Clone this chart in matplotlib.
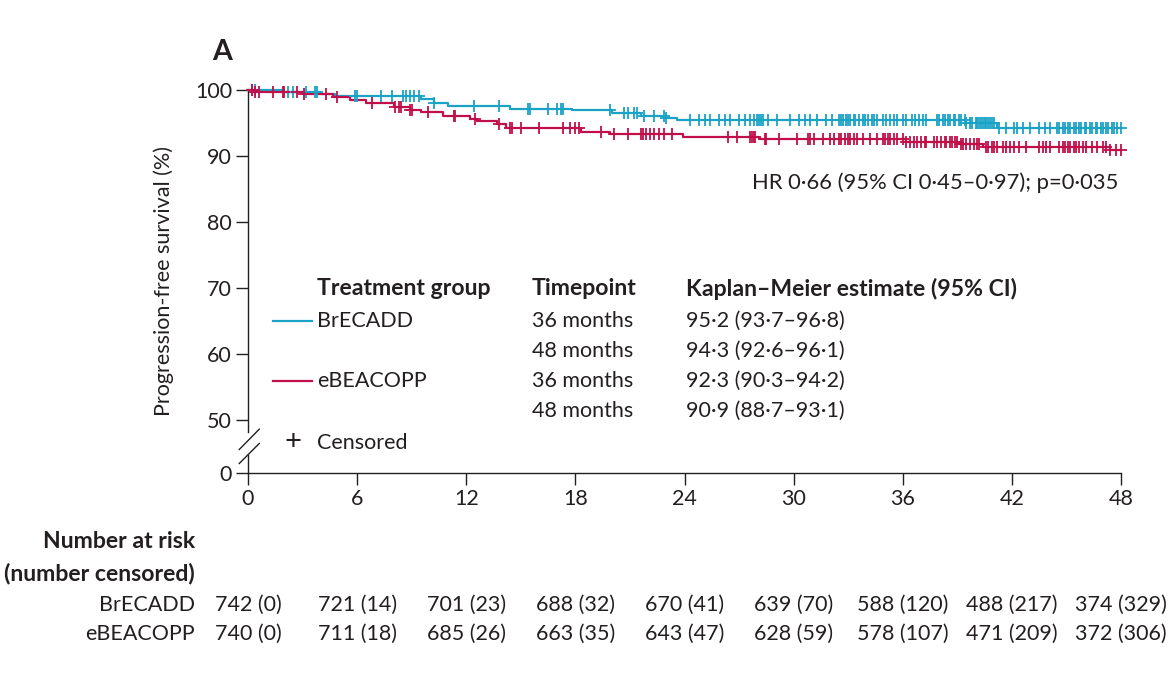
import numpy as np
import matplotlib.pyplot as plt
from matplotlib.lines import Line2D
from matplotlib import transforms

plt.rcParams['font.family'] = ['Lato', 'DejaVu Sans']
TXT = '#231f20'
BLUE = '#1ba3c6'
RED = '#c10f4a'
DOT = '\u00b7'

# Kaplan-Meier steps (months, % progression-free)
blue_t = [0, 2.0, 4.0, 4.8, 9.5, 10.2, 11.0, 14.4, 17.8, 20.0, 21.6, 23.0, 23.6, 39.5, 41.2]
blue_s = [100, 99.7, 99.4, 99.1, 98.6, 98.0, 97.6, 97.1, 96.9, 96.5, 96.1, 95.8, 95.5, 95.0, 94.3]
red_t = [0, 0.3, 3.0, 4.7, 5.6, 6.5, 8.0, 8.9, 9.5, 10.7, 12.2, 12.6, 13.7, 14.2, 16.6, 18.3,
         19.9, 23.9, 28.1, 36.2, 39.1, 40.4, 47.4]
red_s = [100, 99.7, 99.4, 99.0, 98.5, 98.0, 97.5, 97.0, 96.6, 96.1, 95.6, 95.3, 94.8, 94.3, 94.2,
         93.7, 93.3, 92.9, 92.6, 92.2, 91.8, 91.4, 90.9]

# censoring times
blue_cens = [0.2, 0.4, 2.2, 2.5, 3.2, 3.7, 3.8, 5.9, 6.0, 7.3, 7.9, 8.5, 8.7, 8.9, 9.1, 9.4, 10.2,
             12.4, 13.8, 15.4, 15.5, 16.5, 17.0, 17.2, 17.3, 19.9, 20.7, 20.9, 21.2, 21.4, 21.8,
             22.3, 22.9, 23.0, 24.3, 24.8, 25.1, 25.4, 25.9, 26.2, 26.5, 27.0, 27.3, 27.6, 27.8,
             28.0, 28.1, 28.2, 28.3, 28.6, 29.1, 29.8, 30.3, 30.6, 30.9, 31.3, 31.8, 32.1, 32.5,
             32.6, 32.7, 32.9, 33.0, 33.1, 33.3, 33.4, 33.6, 33.8, 33.9, 34.1, 34.3, 34.4, 34.6,
             34.9, 35.1, 35.3, 35.5, 35.7, 36.0, 36.2, 36.5, 36.7, 36.9, 37.1, 37.3, 37.9, 38.0,
             38.2, 38.3, 38.5, 38.6, 38.8, 38.9, 39.1, 39.2, 39.4, 39.5, 39.7, 39.8, 40.0, 40.1,
             40.2, 40.3, 40.4, 40.5, 40.6, 40.7, 40.8, 40.9, 41.0, 41.3, 41.7, 42.1, 42.3, 42.6,
             43.0, 43.5, 43.8, 44.1, 44.5, 44.6, 44.8, 44.9, 45.1, 45.2, 45.4, 45.5, 45.7, 45.8,
             46.0, 46.1, 46.3, 46.4, 46.6, 46.7, 46.9, 47.0, 47.2, 47.3, 47.5, 47.6, 47.8, 48.0]
red_cens = [0.2, 0.4, 0.6, 1.4, 1.9, 2.0, 2.7, 3.1, 4.3, 4.9, 6.8, 8.1, 8.3, 8.4, 8.9, 9.0, 9.9,
            11.3, 11.4, 12.5, 13.8, 14.4, 14.5, 15.0, 16.0, 17.3, 17.7, 18.0, 18.2, 19.4, 20.1,
            20.9, 21.6, 21.7, 21.9, 22.1, 22.3, 22.6, 22.9, 23.3, 26.4, 26.9, 27.6, 27.7, 27.8,
            27.9, 28.4, 28.5, 29.2, 30.2, 30.8, 30.9, 31.1, 31.6, 32.0, 32.2, 32.5, 32.6, 32.8,
            33.0, 33.1, 33.3, 33.5, 33.8, 34.2, 34.6, 34.9, 35.0, 35.2, 35.3, 35.5, 35.7, 36.0,
            36.2, 36.4, 36.6, 36.8, 37.0, 37.2, 37.3, 37.7, 37.9, 38.1, 38.3, 38.4, 38.6, 38.7,
            38.9, 39.0, 39.2, 39.3, 39.5, 39.7, 39.9, 40.1, 40.2, 40.6, 40.7, 40.9, 41.0, 41.2,
            41.5, 41.7, 41.9, 42.1, 42.4, 42.8, 43.5, 43.7, 43.9, 44.1, 44.6, 44.8, 44.9, 45.1,
            45.2, 45.4, 45.5, 45.7, 45.9, 46.1, 46.4, 46.7, 47.0, 47.2, 47.4, 47.7, 48.0]

risk_times = [0, 6, 12, 18, 24, 30, 36, 42, 48]
risk_blue = ['742 (0)', '721 (14)', '701 (23)', '688 (32)', '670 (41)', '639 (70)',
             '588 (120)', '488 (217)', '374 (329)']
risk_red = ['740 (0)', '711 (18)', '685 (26)', '663 (35)', '643 (47)', '628 (59)',
            '578 (107)', '471 (209)', '372 (306)']

groups = ['BrECADD', 'eBEACOPP']
timepoints = ['36 months', '48 months', '36 months', '48 months']
km_est = ['95·2 (93·7–96·8)', '94·3 (92·6–96·1)', '92·3 (90·3–94·2)', '90·9 (88·7–93·1)']

W, H = 1170, 690
ZERO = 42.0  # where 0 sits on the broken axis
fs = 15.5    # regular text
fsb = 16.6   # bold text

fig = plt.figure(figsize=(W / 100, H / 100), dpi=100)
ax = fig.add_axes([248 / W, (H - 473) / H, 873 / W, 383 / H])


def fx(x):
    return x / W


def fy(y):
    return 1 - y / H


def surv_at(times, t_ev, s_ev):
    idx = np.searchsorted(t_ev, times, side='right') - 1
    return np.array(s_ev)[idx]


for t_ev, s_ev, cens, col in [(blue_t, blue_s, blue_cens, BLUE), (red_t, red_s, red_cens, RED)]:
    xs = list(t_ev) + [48]
    ys = list(s_ev) + [s_ev[-1]]
    ax.step(xs, ys, where='post', color=col, lw=1.6, clip_on=False, zorder=3)
    c = np.array(cens)
    ax.plot(c, surv_at(c, t_ev, s_ev), ls='none', marker='+', ms=8, mew=1.3,
            color=col, clip_on=False, zorder=4)

ax.set_xlim(0, 48)
ax.set_ylim(ZERO, 100)
ax.set_xticks(risk_times)
ax.set_yticks([ZERO, 50, 60, 70, 80, 90, 100])
ax.set_yticklabels(['0', '50', '60', '70', '80', '90', '100'])
ax.tick_params(direction='out', length=8.5, width=1.0, labelsize=fs, colors=TXT, pad=3)
for s in ['top', 'right', 'left']:
    ax.spines[s].set_visible(False)
ax.spines['bottom'].set_linewidth(1.0)
ax.spines['bottom'].set_color(TXT)

# broken left spine
ax.plot([0, 0], [48.2, 100], color=TXT, lw=1.0, clip_on=False)
ax.plot([0, 0], [ZERO, 44.7], color=TXT, lw=1.0, clip_on=False)
ax.plot([-0.48, 0.62], [45.56, 48.64], color=TXT, lw=1.0, clip_on=False)
ax.plot([-0.48, 0.62], [43.44, 46.47], color=TXT, lw=1.0, clip_on=False)

ax.set_ylabel('Progression-free survival (%)', fontsize=fs, color=TXT, labelpad=15)

fig.text(fx(222), fy(52), 'A', fontsize=20.5, fontweight='bold', color=TXT, ha='center', va='center')
fig.text(fx(1118), fy(183), 'HR 0' + DOT + '66 (95% CI 0' + DOT + '45–0' + DOT + '97); p=0' + DOT + '035',
         fontsize=15.8, color=TXT, ha='right', va='center')

# legend table
fig.text(fx(317), fy(289), 'Treatment group', fontsize=fsb, fontweight='bold', color=TXT, va='center')
fig.text(fx(532), fy(289), 'Timepoint', fontsize=fsb, fontweight='bold', color=TXT, va='center')
fig.text(fx(686), fy(289), 'Kaplan–Meier estimate (95% CI)', fontsize=fsb, fontweight='bold',
         color=TXT, va='center')
row_y = [321, 351, 381, 411]
for i, (tp, est) in enumerate(zip(timepoints, km_est)):
    fig.text(fx(532), fy(row_y[i]), tp, fontsize=fs, color=TXT, va='center')
    fig.text(fx(686), fy(row_y[i]), est, fontsize=fs, color=TXT, va='center')
for g, col, yy in [(groups[0], BLUE, row_y[0]), (groups[1], RED, row_y[2])]:
    fig.add_artist(Line2D([fx(273), fx(312)], [fy(yy), fy(yy)], color=col, lw=1.6))
    fig.text(fx(317), fy(yy), g, fontsize=fs, color=TXT, va='center')
fig.text(fx(293), fy(442), '+', fontsize=21, color=TXT, ha='center', va='center')
fig.text(fx(317), fy(443), 'Censored', fontsize=fs, color=TXT, va='center')

# number at risk table
fig.text(fx(195), fy(541), 'Number at risk', fontsize=fsb, fontweight='bold', color=TXT,
         ha='right', va='center')
fig.text(fx(195), fy(573), '(number censored)', fontsize=fsb, fontweight='bold', color=TXT,
         ha='right', va='center')
trans = transforms.blended_transform_factory(ax.transData, fig.transFigure)
for label, vals, yy in [(groups[0], risk_blue, 605), (groups[1], risk_red, 634)]:
    fig.text(fx(195), fy(yy), label, fontsize=fs, color=TXT, ha='right', va='center')
    for t, v in zip(risk_times, vals):
        ax.text(t, fy(yy), v, transform=trans, fontsize=fs, color=TXT, ha='center', va='center')

fig.savefig('out.png', dpi=100)
